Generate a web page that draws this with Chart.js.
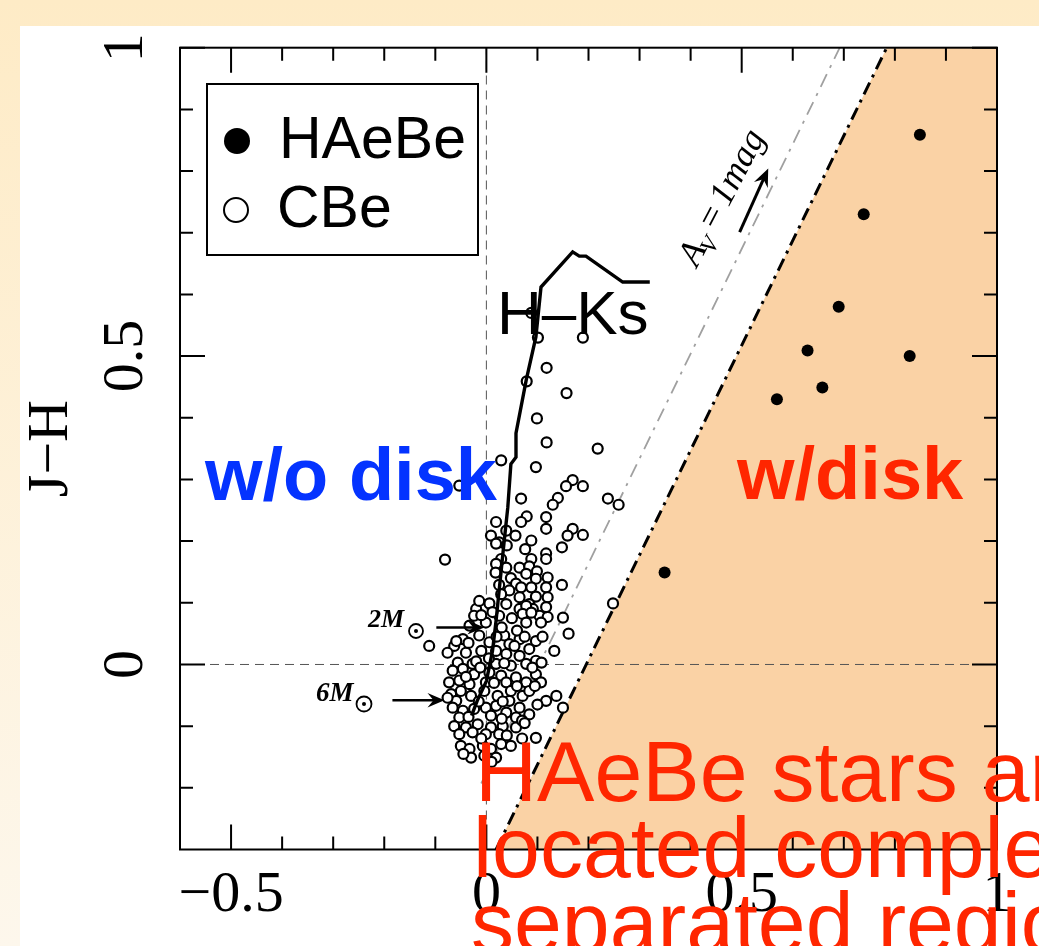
<!DOCTYPE html>
<html>
<head>
<meta charset="utf-8">
<title>J-H vs H-Ks</title>
<script src="https://cdn.jsdelivr.net/npm/chart.js@4.4.1/dist/chart.umd.min.js"></script>
<style>
  html, body { margin: 0; padding: 0; }
  body { width: 1039px; height: 946px; overflow: hidden; background: linear-gradient(#FEEBC6, #FDF7EC); }
  #chartJH { position: absolute; left: 0; top: 0; }
</style>
</head>
<body>
<canvas id="chartJH" width="1039" height="946"></canvas>
<script>
// HAeBe (filled dots) - [H-Ks, J-H]
const haebePoints = [
  [0.849, 0.859], [0.739, 0.730], [0.690, 0.580], [0.629, 0.509],
  [0.829, 0.500], [0.658, 0.449], [0.569, 0.430], [0.349, 0.149]
];

// CBe (open circles) - [H-Ks, J-H]
const cbePoints = [
  [0.088, 0.570], [0.101, 0.530], [0.189, 0.530], [0.118, 0.481], [0.079, 0.459],
  [0.157, 0.440], [0.099, 0.399], [0.118, 0.360], [0.218, 0.350], [0.029, 0.331],
  [0.097, 0.320], [-0.053, 0.290], [0.169, 0.299], [0.189, 0.289], [0.156, 0.289],
  [0.068, 0.269], [0.140, 0.270], [0.130, 0.259], [0.238, 0.269], [0.259, 0.259],
  [0.117, 0.239], [0.079, 0.240], [0.068, 0.231], [0.019, 0.231], [0.117, 0.220],
  [0.169, 0.220], [0.189, 0.210], [0.159, 0.209], [0.009, 0.209], [0.039, 0.217],
  [0.057, 0.209], [0.025, 0.198], [0.088, 0.201], [0.040, 0.193], [0.148, 0.190],
  [0.076, 0.187], [0.117, 0.180], [-0.081, 0.170], [0.088, 0.171], [0.117, 0.171],
  [0.029, 0.171], [0.019, 0.163], [0.065, 0.157], [0.084, 0.159], [0.018, 0.149],
  [0.099, 0.151], [0.048, 0.140], [0.078, 0.147], [0.120, 0.141], [0.097, 0.139],
  [0.058, 0.131], [0.025, 0.129], [0.148, 0.129], [0.068, 0.125], [0.088, 0.125],
  [0.117, 0.125], [0.045, 0.120], [0.097, 0.110], [0.029, 0.114], [0.065, 0.109],
  [0.120, 0.109], [0.006, 0.099], [0.039, 0.098], [0.084, 0.098], [-0.020, 0.090],
  [0.091, 0.090], [0.065, 0.090], [0.104, 0.079], [0.025, 0.079], [0.120, 0.077],
  [0.150, 0.076], [0.248, 0.099], [0.161, 0.050], [0.078, 0.095], [0.117, 0.093],
  [-0.024, 0.079], [0.071, 0.082], [0.088, 0.084], [-0.001, 0.068], [0.078, 0.068],
  [0.107, 0.068], [-0.046, 0.041], [-0.063, 0.030], [-0.112, 0.030], [-0.014, 0.047],
  [0.006, 0.036], [0.035, 0.047], [0.045, 0.033], [0.065, 0.041], [0.097, 0.038],
  [0.133, 0.022], [0.084, 0.025], [-0.040, 0.019], [-0.010, 0.022], [0.019, 0.022],
  [0.039, 0.017], [0.065, 0.014], [0.097, 0.006], [0.108, 0.003], [-0.056, 0.003],
  [-0.027, 0.001], [0.019, 0.001], [0.048, -0.002], [0.078, 0.001], [-0.066, -0.010],
  [-0.046, -0.007], [-0.024, -0.016], [0.006, -0.013], [0.029, -0.018], [0.058, -0.021],
  [0.078, -0.029], [0.097, -0.016], [0.107, -0.029], [-0.073, -0.029], [-0.053, -0.026],
  [-0.033, -0.032], [-0.001, -0.029], [0.039, -0.029], [-0.069, -0.048], [-0.050, -0.043],
  [-0.030, -0.051], [-0.004, -0.043], [0.022, -0.051], [0.048, -0.043], [0.071, -0.051],
  [0.084, -0.043], [0.117, -0.059], [0.137, -0.051], [0.150, -0.070], [-0.059, -0.059],
  [0.045, -0.059], [-0.066, -0.070], [-0.046, -0.075], [-0.024, -0.072], [-0.001, -0.070],
  [0.019, -0.067], [0.039, -0.078], [0.065, -0.070], [0.084, -0.081], [-0.053, -0.086],
  [0.009, -0.083], [0.058, -0.086], [-0.063, -0.100], [-0.040, -0.102], [-0.017, -0.097],
  [0.009, -0.102], [0.032, -0.100], [0.058, -0.102], [0.097, -0.119], [-0.053, -0.113],
  [-0.027, -0.110], [-0.001, -0.113], [0.025, -0.113], [-0.050, -0.132], [-0.033, -0.137],
  [-0.007, -0.132], [0.009, -0.137], [0.029, -0.129], [0.048, -0.132], [-0.030, -0.151],
  [-0.004, -0.148], [0.019, -0.151], [0.070, -0.091], [-0.014, 0.103], [-0.033, 0.063],
  [-0.076, 0.019], [-0.076, -0.054], [-0.059, 0.038], [0.019, 0.196], [0.039, 0.157],
  [-0.010, 0.080], [0.012, 0.085], [0.050, 0.075], [0.060, 0.055], [0.030, 0.060],
  [-0.035, 0.035], [0.020, 0.045], [0.055, 0.030], [0.075, 0.045], [0.110, 0.045],
  [-0.020, 0.005], [0.005, 0.010], [0.035, 0.002], [0.090, -0.005], [-0.012, -0.005],
  [-0.040, -0.020], [0.015, -0.030], [0.060, -0.035], [0.095, -0.035], [-0.015, -0.060],
  [0.032, -0.060], [0.100, -0.065], [-0.035, -0.085], [0.030, -0.088], [0.075, -0.095],
  [-0.010, -0.120], [0.040, -0.115], [0.070, -0.120], [-0.045, -0.145], [0.010, -0.158]
];

// intrinsic locus (thick black line), from bottom to top
const locusPoints = [
  [-0.029, -0.083], [-0.018, -0.059], [0.000, -0.027], [0.012, 0.022], [0.019, 0.071],
  [0.025, 0.120], [0.035, 0.201], [0.042, 0.255], [0.048, 0.325], [0.058, 0.336],
  [0.058, 0.375], [0.078, 0.461], [0.097, 0.531], [0.107, 0.612], [0.169, 0.669],
  [0.182, 0.662], [0.195, 0.662], [0.267, 0.620], [0.320, 0.620]
];

// region w/disk and the lines
const diskRegion = [[0.019, -0.3], [0.784, 1.0], [1.0, 1.0], [1.0, -0.3]];
const diskBoundary = [[0.019, -0.3], [0.784, 1.0]];
const reddeningLine = [[-0.01, -0.193], [0.692, 1.0]];
const zeroVertical = [[0, -0.3], [0, 1]];
const zeroHorizontal = [[-0.6, 0], [1, 0]];

// ticks
const xTickLabels = [-0.5, 0, 0.5, 1];
const yTickLabels = [0, 0.5, 1];
const xMinorTicks = [-0.4, -0.3, -0.2, -0.1, 0.1, 0.2, 0.3, 0.4, 0.6, 0.7, 0.8, 0.9];
const yMinorTicks = [-0.2, -0.1, 0.1, 0.2, 0.3, 0.4, 0.6, 0.7, 0.8, 0.9];

// arrows (data coords)
const massArrows = [
  { text: '2M', from: [-0.098, 0.060], to: [-0.004, 0.060] },
  { text: '6M', from: [-0.184, -0.058], to: [-0.082, -0.058] }
];
const avArrow = { from: [0.496, 0.701], to: [0.552, 0.804] };

const toXY = arr => arr.map(p => ({ x: p[0], y: p[1] }));
const fmtTick = v => (v < 0 ? '\u2212' + Math.abs(v) : String(v));

function drawArrow(ctx, x1, y1, x2, y2, head) {
  const a = Math.atan2(y2 - y1, x2 - x1);
  const c = Math.cos(a), s = Math.sin(a);
  ctx.beginPath();
  ctx.moveTo(x1, y1);
  ctx.lineTo(x2 - head * 0.6 * c, y2 - head * 0.6 * s);
  ctx.stroke();
  ctx.beginPath();
  ctx.moveTo(x2, y2);
  ctx.lineTo(x2 - head * c + head * 0.42 * s, y2 - head * s - head * 0.42 * c);
  ctx.lineTo(x2 - head * 0.65 * c, y2 - head * 0.65 * s);
  ctx.lineTo(x2 - head * c - head * 0.42 * s, y2 - head * s + head * 0.42 * c);
  ctx.closePath();
  ctx.fill();
}

function drawSun(ctx, cx, cy, r) {
  ctx.beginPath();
  ctx.arc(cx, cy, r, 0, Math.PI * 2);
  ctx.lineWidth = 1.8;
  ctx.stroke();
  ctx.beginPath();
  ctx.arc(cx, cy, 2, 0, Math.PI * 2);
  ctx.fill();
}

const annotPlugin = {
  id: 'annot',
  beforeDraw(chart) {
    const ctx = chart.ctx;
    ctx.save();
    ctx.fillStyle = '#ffffff';
    ctx.fillRect(20, 26, chart.width - 20, chart.height - 26);
    ctx.restore();
  },
  afterDraw(chart) {
    const { ctx, chartArea: a, scales: { x, y } } = chart;
    ctx.save();

    // tick marks inside the frame, all four sides
    ctx.strokeStyle = '#000';
    ctx.fillStyle = '#000';
    ctx.lineWidth = 2;
    ctx.beginPath();
    const xt = (v, len) => {
      const px = x.getPixelForValue(v);
      ctx.moveTo(px, a.bottom); ctx.lineTo(px, a.bottom - len);
      ctx.moveTo(px, a.top); ctx.lineTo(px, a.top + len);
    };
    const yt = (v, len) => {
      const py = y.getPixelForValue(v);
      ctx.moveTo(a.left, py); ctx.lineTo(a.left + len, py);
      ctx.moveTo(a.right, py); ctx.lineTo(a.right - len, py);
    };
    xTickLabels.forEach(v => xt(v, 25));
    xMinorTicks.forEach(v => xt(v, 13));
    yTickLabels.forEach(v => yt(v, 25));
    yMinorTicks.forEach(v => yt(v, 13));
    ctx.stroke();
    ctx.strokeRect(a.left, a.top, a.width, a.height);

    // legend box
    ctx.lineWidth = 2;
    ctx.strokeRect(207, 84, 271, 171);
    ctx.beginPath();
    ctx.arc(237, 141, 13, 0, Math.PI * 2);
    ctx.fill();
    ctx.beginPath();
    ctx.arc(236, 210, 12, 0, Math.PI * 2);
    ctx.stroke();
    ctx.font = '59px "Liberation Sans", Arial, sans-serif';
    ctx.textBaseline = 'alphabetic';
    ctx.textAlign = 'left';
    ctx.fillText('HAeBe', 279, 158);
    ctx.fillText('CBe', 277, 227);

    // H-Ks label
    ctx.font = '62px "Liberation Sans", Arial, sans-serif';
    ctx.fillText('H\u2013Ks', 497, 334);

    // mass arrows
    ctx.lineWidth = 2.5;
    massArrows.forEach(m => {
      drawArrow(ctx, x.getPixelForValue(m.from[0]), y.getPixelForValue(m.from[1]),
        x.getPixelForValue(m.to[0]), y.getPixelForValue(m.to[1]), 17);
    });
    ctx.font = 'italic bold 26px "Liberation Serif", serif';
    ctx.fillText('2M', 368, 627);
    drawSun(ctx, 416, 631, 7);
    ctx.font = 'italic bold 27px "Liberation Serif", serif';
    ctx.fillText('6M', 316, 701);
    drawSun(ctx, 364, 704, 7.5);

    // A_V = 1 mag arrow and text
    ctx.lineWidth = 3;
    drawArrow(ctx, x.getPixelForValue(avArrow.from[0]), y.getPixelForValue(avArrow.from[1]),
      x.getPixelForValue(avArrow.to[0]), y.getPixelForValue(avArrow.to[1]), 18);
    ctx.save();
    ctx.translate(697, 268);
    ctx.rotate(-62.4 * Math.PI / 180);
    ctx.font = 'italic 36px "Liberation Serif", serif';
    ctx.fillText('A', 0, 0);
    let off = ctx.measureText('A').width;
    ctx.font = 'italic 24px "Liberation Serif", serif';
    ctx.fillText('V', off - 3, 8);
    off += ctx.measureText('V').width + 3;
    ctx.font = 'italic 36px "Liberation Serif", serif';
    ctx.fillText('=', off, 0);
    off += ctx.measureText('=').width + 4;
    ctx.fillText('1mag', off, 0);
    ctx.restore();

    // region labels
    ctx.font = 'bold 74px "Liberation Sans", Arial, sans-serif';
    ctx.fillStyle = '#0433FF';
    ctx.fillText('w/o disk', 205, 500);
    ctx.fillStyle = '#FF2600';
    ctx.fillText('w/disk', 737, 499);

    // red note, runs off the page
    ctx.font = '86px "Liberation Sans", Arial, sans-serif';
    ctx.fillText('HAeBe stars are', 475, 801);
    ctx.fillText('located completely', 473, 877);
    ctx.fillText('separated region', 471, 952);

    ctx.restore();
  }
};

const serif = '"Liberation Serif", "Times New Roman", serif';

new Chart(document.getElementById('chartJH'), {
  type: 'scatter',
  data: {
    datasets: [
      {
        label: 'HAeBe', data: toXY(haebePoints), order: 0,
        pointRadius: 6, pointBackgroundColor: '#000', pointBorderWidth: 0
      },
      {
        label: 'locus', type: 'line', data: toXY(locusPoints), order: 1,
        borderColor: '#000', borderWidth: 3.4, pointRadius: 0, tension: 0, fill: false
      },
      {
        label: 'CBe', data: toXY(cbePoints), order: 2,
        pointRadius: 5, pointBackgroundColor: '#fff', pointBorderColor: '#000', pointBorderWidth: 2.2
      },
      {
        label: 'boundary', type: 'line', data: toXY(diskBoundary), order: 3,
        borderColor: '#000', borderWidth: 3, borderDash: [13, 6, 3, 6], pointRadius: 0, fill: false
      },
      {
        label: 'reddening', type: 'line', data: toXY(reddeningLine), order: 4,
        borderColor: '#a0a0a0', borderWidth: 1.8, borderDash: [14, 7, 3, 7], pointRadius: 0, fill: false
      },
      {
        label: 'zeroV', type: 'line', data: toXY(zeroVertical), order: 5,
        borderColor: '#555', borderWidth: 1, borderDash: [9, 6], pointRadius: 0, fill: false
      },
      {
        label: 'zeroH', type: 'line', data: toXY(zeroHorizontal), order: 6,
        borderColor: '#555', borderWidth: 1, borderDash: [9, 6], pointRadius: 0, fill: false
      },
      {
        label: 'disk', type: 'line', data: toXY(diskRegion), order: 10,
        borderColor: 'rgba(0,0,0,0)', borderWidth: 1, backgroundColor: '#FAD2A5',
        pointRadius: 0, fill: 'shape'
      }
    ]
  },
  options: {
    responsive: false,
    animation: false,
    events: [],
    layout: { padding: { left: 20, top: 47.7, right: 42, bottom: 0 } },
    plugins: { legend: { display: false }, tooltip: { enabled: false } },
    scales: {
      x: {
        type: 'linear', position: 'bottom', min: -0.6, max: 1.0,
        grid: { display: false, drawTicks: false },
        border: { display: false },
        afterBuildTicks: s => { s.ticks = xTickLabels.map(v => ({ value: v })); },
        afterFit: s => { s.height = 96.5; },
        ticks: {
          autoSkip: false, maxRotation: 0, padding: 11, color: '#000',
          font: { family: serif, size: 58 },
          callback: v => fmtTick(v)
        }
      },
      y: {
        type: 'linear', position: 'left', min: -0.3, max: 1.0,
        grid: { display: false, drawTicks: false },
        border: { display: false },
        afterBuildTicks: s => { s.ticks = yTickLabels.map(v => ({ value: v })); },
        afterFit: s => { s.width = 160; },
        ticks: {
          autoSkip: false, minRotation: 90, maxRotation: 90, crossAlign: 'center',
          padding: 17, color: '#000',
          font: { family: serif, size: 58, lineHeight: 0.8 },
          callback: v => fmtTick(v)
        },
        title: {
          display: true, text: 'J\u2212H', color: '#000', padding: { top: 3 },
          font: { family: serif, size: 58, lineHeight: 1 }
        }
      }
    }
  },
  plugins: [annotPlugin]
});
</script>
</body>
</html>
